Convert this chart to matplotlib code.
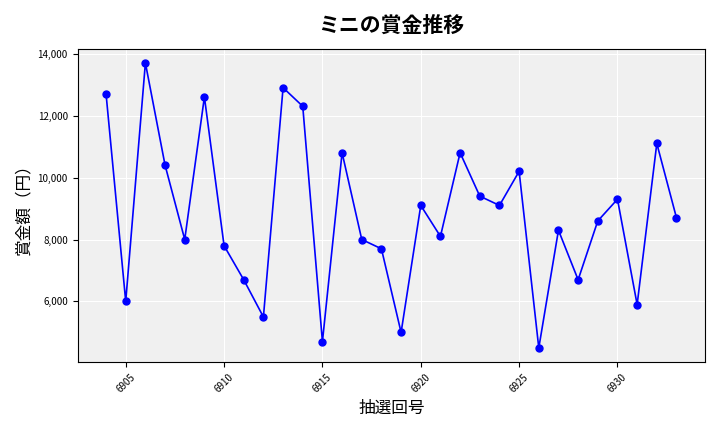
import matplotlib as mpl
mpl.use('Agg')
import matplotlib.pyplot as plt
from matplotlib.ticker import FuncFormatter

plt.rcParams['font.family'] = ['Noto Sans CJK JP', 'DejaVu Sans']

draws = list(range(6904, 6934))
prizes = [12700, 6000, 13700, 10400, 8000, 12600, 7800, 6700, 5500, 12900,
          12300, 4700, 10800, 8000, 7700, 5000, 9100, 8100, 10800, 9400,
          9100, 10200, 4500, 8300, 6700, 8600, 9300, 5900, 11100, 8700]

fig, ax = plt.subplots(figsize=(7.2, 4.32), dpi=100)
ax.set_facecolor('#f0f0f0')
ax.grid(True, color='white', linewidth=0.8)
ax.set_axisbelow(True)
ax.plot(draws, prizes, color='blue', marker='o', markersize=5, linewidth=1.2)
ax.set_title('ミニの賞金推移', fontsize=15, fontweight='bold', pad=12)
ax.set_xlabel('抽選回号', fontsize=12)
ax.set_ylabel('賞金額（円）', fontsize=12)
ax.yaxis.set_major_formatter(FuncFormatter(lambda v, p: f'{v:,.0f}'))
ax.tick_params(axis='x', labelrotation=45, labelsize=7)
ax.tick_params(axis='y', labelsize=7)
fig.tight_layout()
fig.savefig('out.png')
